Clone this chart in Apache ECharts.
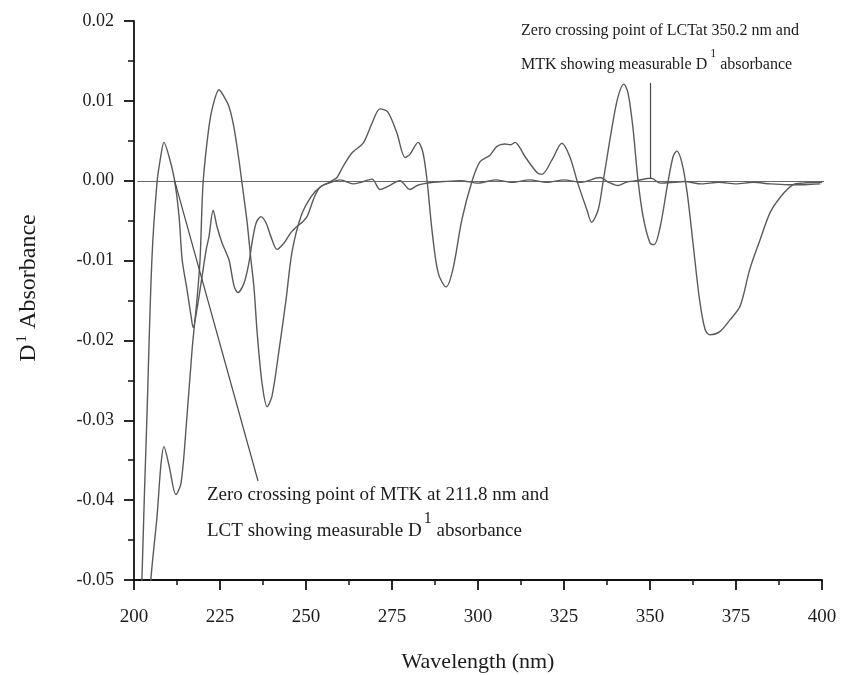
<!DOCTYPE html>
<html>
<head>
<meta charset="utf-8">
<script src="https://cdn.jsdelivr.net/npm/echarts@6/dist/echarts.min.js"></script>
<style>
  html, body { margin: 0; padding: 0; background: #fff; }
  #chart { width: 848px; height: 675px; }
</style>
</head>
<body>
<div id="chart"></div>
<script>
// MTK first derivative spectrum
const mtkWavelength = [202.2, 202.3, 203.8, 205.2, 206.7, 207.8, 208.7, 210.2, 211.8, 213.1, 214.0, 215.4, 216.6, 217.2, 218.3, 219.5, 221.0, 221.8, 223.0, 224.1, 225.6, 227.6, 229.1, 230.2, 232.0, 233.4, 234.3, 235.5, 236.9, 238.4, 239.8, 241.6, 243.6, 245.6, 247.4, 248.9, 250.3, 252.3, 253.9, 256.8, 258.0, 259.0, 260.8, 263.4, 266.6, 269.2, 271.5, 273.8, 276.4, 278.8, 280.2, 282.6, 284.0, 285.2, 286.6, 288.4, 290.7, 292.7, 295.3, 298.3, 300.6, 303.5, 305.5, 307.8, 309.5, 310.8, 312.2, 313.7, 317.2, 318.6, 321.5, 324.4, 326.7, 329.0, 331.7, 333.0, 334.9, 336.3, 339.0, 340.7, 342.4, 343.6, 345.0, 346.5, 348.0, 350.0, 351.2, 353.0, 355.0, 356.7, 357.8, 359.3, 360.8, 362.5, 364.4, 366.0, 367.4, 370.3, 373.3, 376.2, 379.0, 382.0, 384.9, 387.8, 391.6, 394.5, 400.0];
const mtkD1 = [-0.056, -0.050, -0.029, -0.0099, -0.0002, 0.0031, 0.0048, 0.0030, 0.0, -0.0045, -0.0099, -0.0136, -0.0170, -0.0184, -0.0161, -0.0128, -0.0086, -0.0070, -0.0037, -0.0057, -0.0078, -0.0099, -0.0132, -0.0140, -0.0128, -0.0103, -0.0078, -0.0053, -0.0045, -0.0053, -0.0070, -0.0086, -0.0078, -0.0065, -0.0057, -0.0052, -0.0045, -0.0022, -0.0009, -0.0002, 0.0001, 0.0004, 0.0018, 0.0035, 0.0047, 0.0072, 0.0090, 0.0086, 0.0060, 0.0029, 0.0033, 0.0048, 0.0035, 0.0, -0.0061, -0.0115, -0.0133, -0.0111, -0.0049, 0.0, 0.0024, 0.0032, 0.0043, 0.0046, 0.0045, 0.0048, 0.0041, 0.0030, 0.0010, 0.0008, 0.0026, 0.0047, 0.0030, -0.0003, -0.0037, -0.0052, -0.0037, -0.0003, 0.0068, 0.0105, 0.0121, 0.0110, 0.0068, 0.0001, -0.0045, -0.0078, -0.0080, -0.0057, -0.0007, 0.0030, 0.0037, 0.0022, -0.0015, -0.0078, -0.0149, -0.0186, -0.0193, -0.0189, -0.0174, -0.0157, -0.0111, -0.0074, -0.0040, -0.0021, -0.0005, -0.0003, -0.0002];

// LCT first derivative spectrum
const lctWavelength = [204.0, 204.9, 206.7, 207.8, 208.7, 210.2, 212.2, 213.7, 215.4, 216.9, 218.3, 219.2, 220.1, 221.8, 223.0, 224.7, 226.2, 227.6, 229.0, 230.5, 231.4, 232.8, 234.0, 234.9, 235.8, 237.2, 238.7, 240.1, 242.2, 244.2, 245.9, 248.5, 251.5, 254.4, 257.3, 260.0, 263.7, 266.0, 269.2, 271.5, 273.8, 277.3, 280.2, 282.3, 284.0, 287.0, 290.0, 295.0, 300.0, 305.0, 310.0, 315.0, 320.0, 325.0, 330.0, 335.5, 338.0, 340.7, 343.0, 346.0, 350.4, 353.0, 357.0, 360.0, 365.0, 370.0, 375.0, 380.0, 385.0, 390.0, 395.0, 399.5];
const lctD1 = [-0.058, -0.050, -0.042, -0.0357, -0.0333, -0.0357, -0.0393, -0.0378, -0.0295, -0.0211, -0.0149, -0.0099, -0.0002, 0.0068, 0.0095, 0.0114, 0.0105, 0.0093, 0.0068, 0.0026, -0.0003, -0.0049, -0.0099, -0.0135, -0.0190, -0.0253, -0.0283, -0.0270, -0.0211, -0.0149, -0.0090, -0.0045, -0.0020, -0.0007, -0.0002, 0.0001, -0.0004, -0.0002, 0.0002, -0.0011, -0.0007, 0.0, -0.0011, -0.0006, -0.0004, -0.0002, -0.0001, 0.0, -0.0003, 0.0001, -0.0002, 0.0001, -0.0002, 0.0001, -0.0002, 0.0004, -0.0002, -0.0006, -0.0002, 0.0, 0.0003, -0.0003, -0.0002, -0.0001, -0.0004, -0.0002, -0.0004, -0.0002, -0.0004, -0.0005, -0.0005, -0.0004];

// horizontal reference line
const baselineWavelength = [201, 402];
const baselineD1 = [-0.0001, -0.0001];

// annotation pointer lines: [x1, y1, x2, y2]
const pointerMtk = [211.8, 0.0, 236.05, -0.0376];
const pointerLct = [350.2, 0.0003, 350.2, 0.01225];

const FONT = '"Liberation Serif", "Times New Roman", serif';
const TEXT_COLOR = '#1c1c1c';
const LINE_COLOR = '#5a5a5a';

const zip = (xs, ys) => xs.map((x, i) => [x, ys[i]]);

const measureCtx = document.createElement('canvas').getContext('2d');
function measure(str, size) {
  measureCtx.font = size + 'px ' + FONT;
  return measureCtx.measureText(str).width;
}
function textEl(str, x, y, size) {
  return {
    type: 'text', x: x, y: y, silent: true,
    style: {
      text: str, font: size + 'px ' + FONT, fill: TEXT_COLOR,
      textAlign: 'left', textVerticalAlign: 'middle', align: 'left', verticalAlign: 'middle'
    }
  };
}
// one line of text with a superscript, positioned by its baseline
function supLine(x, baseline, before, sup, after, size, supSize, rise, gap) {
  const mid = baseline - 0.3375 * size;
  const supMid = baseline - rise - 0.3375 * supSize;
  const w1 = measure(before, size);
  const w2 = measure(sup, supSize);
  return [
    textEl(before, x, mid, size),
    textEl(sup, x + w1 + gap, supMid, supSize),
    textEl(after, x + w1 + gap + w2, mid, size)
  ];
}

// y axis title, rotated
const yTitleSize = 24;
const yTitleLen = measure('D', yTitleSize) + 2 + measure('1', 15) + measure(' Absorbance', yTitleSize);
const yTitle = {
  type: 'group', x: 29, y: 288 + yTitleLen / 2, rotation: Math.PI / 2,
  children: supLine(0, 0.3375 * yTitleSize, 'D', '1', ' Absorbance', yTitleSize, 15, 10, 2)
};

const graphics = [
  textEl('Zero crossing point of MTK at 211.8 nm and', 207, 501 - 0.3375 * 19, 19),
  ...supLine(207, 537, 'LCT showing measurable D', '1', ' absorbance', 19, 16, 13, 2),
  textEl('Zero crossing point of LCTat 350.2 nm and', 521, 36 - 0.3375 * 16, 16),
  ...supLine(521, 70, 'MTK showing measurable D', '1', ' absorbance', 16, 12, 12, 3),
  yTitle
];

const chart = echarts.init(document.getElementById('chart'));

const option = {
  animation: false,
  backgroundColor: '#fff',
  grid: { left: 134, right: 26, top: 21, bottom: 95, outerBoundsMode: 'none' },
  xAxis: {
    type: 'value',
    min: 200,
    max: 400,
    interval: 25,
    name: 'Wavelength (nm)',
    nameLocation: 'middle',
    nameGap: 71,
    nameTextStyle: { fontFamily: FONT, fontSize: 22, color: TEXT_COLOR },
    axisLine: { onZero: false, lineStyle: { color: '#111', width: 1.8 } },
    axisTick: { length: 10, lineStyle: { color: '#111', width: 1.8 } },
    minorTick: { show: true, splitNumber: 2, length: 5, lineStyle: { color: '#111', width: 1.5 } },
    axisLabel: { margin: 28, fontFamily: FONT, fontSize: 19, color: TEXT_COLOR },
    splitLine: { show: false }
  },
  yAxis: {
    type: 'value',
    min: -0.05,
    max: 0.02,
    interval: 0.01,
    axisLine: { show: true, lineStyle: { color: '#111', width: 1.8 } },
    axisTick: { show: true, length: 10, lineStyle: { color: '#111', width: 1.8 } },
    minorTick: { show: true, splitNumber: 2, length: 6, lineStyle: { color: '#111', width: 1.5 } },
    axisLabel: {
      margin: 20, fontFamily: FONT, fontSize: 18, color: TEXT_COLOR,
      formatter: (v) => v.toFixed(2)
    },
    splitLine: { show: false }
  },
  graphic: graphics,
  series: [
    {
      name: 'baseline',
      type: 'line',
      data: zip(baselineWavelength, baselineD1),
      showSymbol: false,
      clip: false,
      lineStyle: { color: '#6a6a6a', width: 1.2 },
      silent: true
    },
    {
      name: 'MTK',
      type: 'line',
      data: zip(mtkWavelength, mtkD1),
      smooth: 0.3,
      showSymbol: false,
      lineStyle: { color: LINE_COLOR, width: 1.4 },
      markLine: {
        silent: true,
        symbol: ['none', 'none'],
        label: { show: false },
        lineStyle: { color: '#4a4a4a', width: 1.2, type: 'solid' },
        data: [
          [{ coord: [pointerMtk[0], pointerMtk[1]] }, { coord: [pointerMtk[2], pointerMtk[3]] }],
          [{ coord: [pointerLct[0], pointerLct[1]] }, { coord: [pointerLct[2], pointerLct[3]] }]
        ]
      }
    },
    {
      name: 'LCT',
      type: 'line',
      data: zip(lctWavelength, lctD1),
      smooth: 0.3,
      showSymbol: false,
      lineStyle: { color: LINE_COLOR, width: 1.4 }
    }
  ]
};

chart.setOption(option);
</script>
</body>
</html>
